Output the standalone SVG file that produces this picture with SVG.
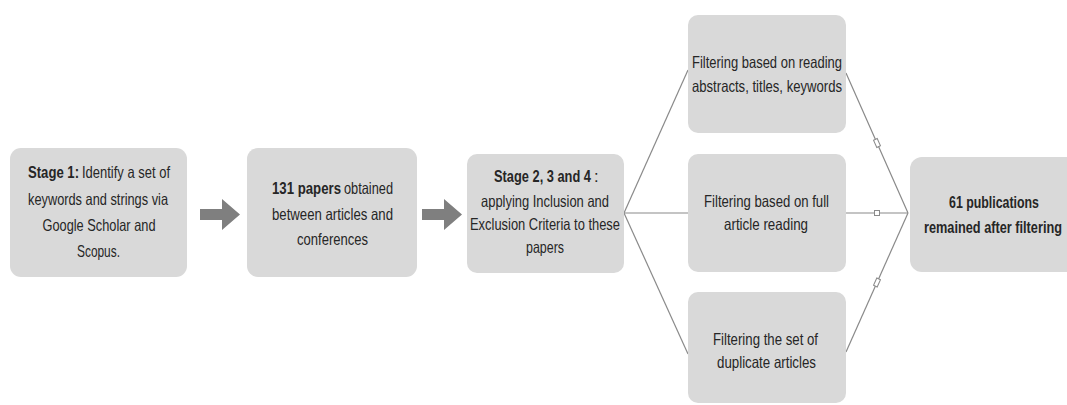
<svg xmlns="http://www.w3.org/2000/svg" width="1067" height="405" viewBox="0 0 1067 405">
<style>
.box{fill:#d9d9d9;}
.t{font-family:"Liberation Sans Narrow","Liberation Sans",Arial,sans-serif;font-size:16.5px;fill:#262626;text-anchor:middle;}
.s{text-anchor:start;}
.b{font-weight:bold;}
.arrow{fill:#7f7f7f;}
.conn{fill:none;stroke:#8a8a8a;stroke-width:1.2;}
</style>
<defs>
<marker id="mDiag" markerUnits="userSpaceOnUse" markerWidth="12" markerHeight="8" refX="6" refY="4" orient="auto">
<rect x="2" y="2" width="8" height="4" fill="#ffffff" stroke="#8a8a8a" stroke-width="1"/>
</marker>
<marker id="mFlat" markerUnits="userSpaceOnUse" markerWidth="8" markerHeight="8" refX="4" refY="4" orient="auto">
<rect x="1.5" y="1.5" width="5" height="5" fill="#ffffff" stroke="#8a8a8a" stroke-width="1"/>
</marker>
</defs>
<rect width="1067" height="405" fill="#ffffff"/>

<g id="connectors">
<line class="conn" x1="624" y1="213" x2="688" y2="70"/>
<line class="conn" x1="624" y1="213" x2="688" y2="213"/>
<line class="conn" x1="624" y1="213" x2="688" y2="354"/>
<path class="conn" d="M846 73 L877 143 L908 213" marker-mid="url(#mDiag)"/>
<path class="conn" d="M846 213 L877 213 L908 213" marker-mid="url(#mFlat)"/>
<path class="conn" d="M846 352 L877 282.5 L908 213" marker-mid="url(#mDiag)"/>
<polygon class="arrow" points="200,209 222,209 222,199 240,214.5 222,230 222,220 200,220"/>
<polygon class="arrow" points="422,209 444,209 444,199 462,214.5 444,230 444,220 422,220"/>
</g>

<g id="stage1">
<rect class="box" x="10" y="148" width="177" height="129" rx="11"/>
<text class="t s b" x="28" y="178" textLength="51" lengthAdjust="spacingAndGlyphs">Stage 1:</text>
<text class="t s" x="82" y="178" textLength="88" lengthAdjust="spacingAndGlyphs">Identify a set of</text>
<text class="t" x="98" y="205" textLength="140" lengthAdjust="spacingAndGlyphs">keywords and strings via</text>
<text class="t" x="99" y="231" textLength="113" lengthAdjust="spacingAndGlyphs">Google Scholar and</text>
<text class="t" x="98.5" y="257" textLength="43" lengthAdjust="spacingAndGlyphs">Scopus.</text>
</g>

<g id="papers131">
<rect class="box" x="247" y="148" width="170" height="129" rx="11"/>
<text class="t s b" x="272" y="194" textLength="69" lengthAdjust="spacingAndGlyphs">131 papers</text>
<text class="t s" x="344" y="194" textLength="49" lengthAdjust="spacingAndGlyphs">obtained</text>
<text class="t" x="332.5" y="220" textLength="121" lengthAdjust="spacingAndGlyphs">between articles and</text>
<text class="t" x="332.5" y="245" textLength="71" lengthAdjust="spacingAndGlyphs">conferences</text>
</g>

<g id="stage234">
<rect class="box" x="467" y="154" width="157" height="119" rx="10"/>
<text class="t s b" x="494" y="182" textLength="97" lengthAdjust="spacingAndGlyphs">Stage 2, 3 and 4</text>
<text class="t s" x="594" y="182">:</text>
<text class="t" x="545" y="207" textLength="128" lengthAdjust="spacingAndGlyphs">applying Inclusion and</text>
<text class="t" x="545" y="230" textLength="150" lengthAdjust="spacingAndGlyphs">Exclusion Criteria to these</text>
<text class="t" x="545" y="253" textLength="38" lengthAdjust="spacingAndGlyphs">papers</text>
</g>

<g id="filterAbstracts">
<rect class="box" x="688" y="15" width="158" height="118" rx="10"/>
<text class="t" x="767" y="68" textLength="150" lengthAdjust="spacingAndGlyphs">Filtering based on reading</text>
<text class="t" x="767" y="92" textLength="150" lengthAdjust="spacingAndGlyphs">abstracts, titles, keywords</text>
</g>

<g id="filterFull">
<rect class="box" x="688" y="154" width="158" height="118" rx="10"/>
<text class="t" x="766.5" y="207" textLength="125" lengthAdjust="spacingAndGlyphs">Filtering based on full</text>
<text class="t" x="766" y="230" textLength="84" lengthAdjust="spacingAndGlyphs">article reading</text>
</g>

<g id="filterDuplicates">
<rect class="box" x="688" y="292" width="158" height="111" rx="10"/>
<text class="t" x="765.5" y="345" textLength="105" lengthAdjust="spacingAndGlyphs">Filtering the set of</text>
<text class="t" x="766.5" y="368" textLength="99" lengthAdjust="spacingAndGlyphs">duplicate articles</text>
</g>

<g id="result">
<path class="box" d="M922 157 H1067 V272 H922 A12 12 0 0 1 910 260 V169 A12 12 0 0 1 922 157 Z"/>
<text class="t b" x="994" y="208" textLength="90" lengthAdjust="spacingAndGlyphs">61 publications</text>
<text class="t b" x="993" y="233" textLength="138" lengthAdjust="spacingAndGlyphs">remained after filtering</text>
</g>
</svg>
